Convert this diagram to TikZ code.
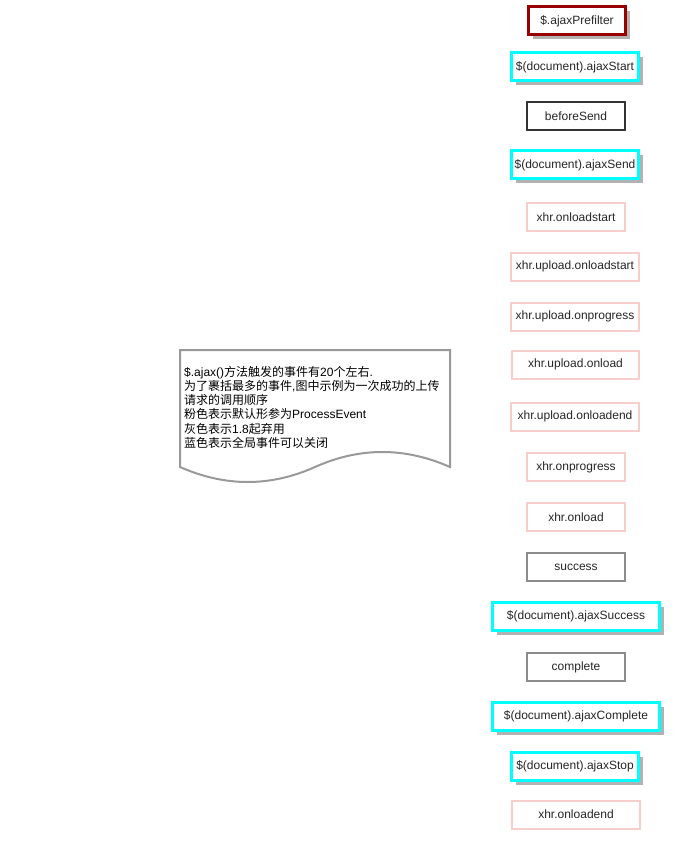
\documentclass[tikz,border=0pt]{standalone}
\usepackage{fontspec}
\setmainfont{Liberation Sans}
\newfontfamily\cjk{Noto Sans CJK SC}
\usetikzlibrary{shadows}
\definecolor{darkred}{HTML}{990000}
\definecolor{cyanb}{HTML}{00FFFF}
\definecolor{pinkb}{HTML}{F8CECC}
\definecolor{darkb}{HTML}{333333}
\definecolor{grayb}{HTML}{8C8C8C}
\definecolor{noteb}{HTML}{999999}
\tikzset{
  box/.style={draw, rectangle, fill=white, inner sep=0pt, minimum height=28pt,
    font=\fontsize{12}{14}\selectfont, text=black!85},
  shad/.style={general shadow={fill=black!30, shadow xshift=4pt, shadow yshift=-4pt}},
  redbox/.style={box, shad, draw=darkred, line width=3pt, minimum width=97pt},
  cyanbox/.style={box, shad, draw=cyanb, line width=3pt},
  darkbox/.style={box, draw=darkb, line width=2pt, minimum width=98pt},
  pinkbox/.style={box, draw=pinkb, line width=2pt},
  graybox/.style={box, draw=grayb, line width=2pt, minimum width=98pt},
  notetext/.style={align=left, inner sep=0pt, font=\fontsize{12}{14.2}\selectfont, text=black}
}
\begin{document}
\begin{tikzpicture}[x=1pt,y=-1pt]
\useasboundingbox (0,0) rectangle (681,850);
\node[redbox] (prefilter) at (577,21) {\$.ajaxPrefilter};
\node[cyanbox, minimum width=127pt] (start) at (575,67) {\$(document).ajaxStart};
\node[darkbox] (before) at (576,116.5) {beforeSend};
\node[cyanbox, minimum width=127pt] (send) at (575,165) {\$(document).ajaxSend};
\node[pinkbox, minimum width=98pt] (ols) at (576,217) {xhr.onloadstart};
\node[pinkbox, minimum width=128pt] (uols) at (575,266.5) {xhr.upload.onloadstart};
\node[pinkbox, minimum width=128pt] (uprog) at (575,316.5) {xhr.upload.onprogress};
\node[pinkbox, minimum width=127pt] (uload) at (575.5,364.5) {xhr.upload.onload};
\node[pinkbox, minimum width=128pt] (uend) at (575,416.5) {xhr.upload.onloadend};
\node[pinkbox, minimum width=98pt] (prog) at (576,467) {xhr.onprogress};
\node[pinkbox, minimum width=98pt] (load) at (576,517) {xhr.onload};
\node[graybox] (success) at (576,567) {success};
\node[cyanbox, minimum width=167pt] (asuccess) at (576,616.5) {\$(document).ajaxSuccess};
\node[graybox] (complete) at (576,667) {complete};
\node[cyanbox, minimum width=167pt] (acomplete) at (576,716.5) {\$(document).ajaxComplete};
\node[cyanbox, minimum width=127pt] (stop) at (575,766.5) {\$(document).ajaxStop};
\node[pinkbox, minimum width=128pt] (oend) at (576,814.5) {xhr.onloadend};
% note (document shape)
\draw[draw=noteb, line width=2pt, fill=white]
  (180,350) -- (450,350) -- (450,467)
  .. controls (404.7,447) and (359.7,447) .. (315,467)
  .. controls (270.3,487) and (225.3,487) .. (180,467) -- cycle;
\node[notetext, anchor=north west] (note) at (184,366) {%
\$.ajax(){\cjk 方法触发的事件有}20{\cjk 个左右}.\\
{\cjk 为了裹括最多的事件},{\cjk 图中示例为一次成功的上传}\\
{\cjk 请求的调用顺序}\\
{\cjk 粉色表示默认形参为}ProcessEvent\\
{\cjk 灰色表示}1.8{\cjk 起弃用}\\
{\cjk 蓝色表示全局事件可以关闭}};
\end{tikzpicture}
\end{document}
